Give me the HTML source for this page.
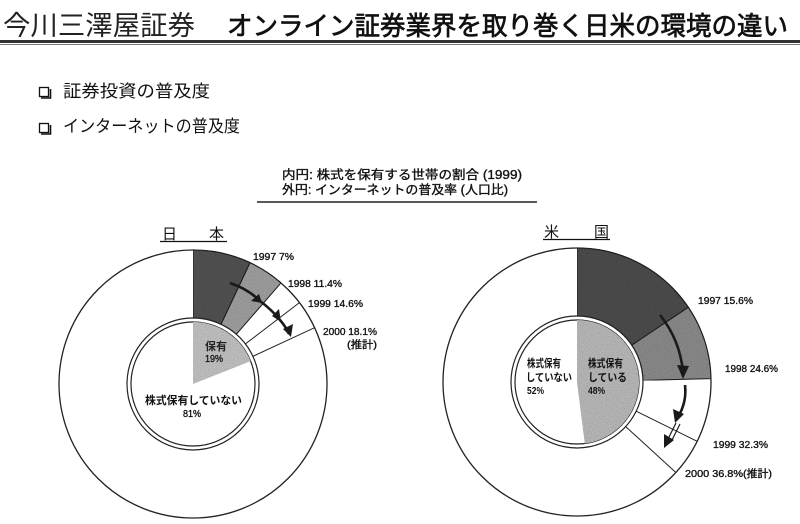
<!DOCTYPE html>
<html><head><meta charset="utf-8"><style>
html,body{margin:0;padding:0;background:#fff;}
svg{display:block;}
.jp{font-family:"Liberation Sans","Noto Sans CJK JP",sans-serif;}
.n{stroke:#111;stroke-width:0.35;}
</style></head><body>
<svg width="800" height="524" viewBox="0 0 800 524" xmlns="http://www.w3.org/2000/svg" class="jp">
<defs>
<filter id="spk" x="0" y="0" width="100%" height="100%">
<feTurbulence type="fractalNoise" baseFrequency="0.9" numOctaves="1" seed="3" result="n"/>
<feColorMatrix in="n" type="matrix" values="0 0 0 0 0  0 0 0 0 0  0 0 0 0 0  0 0 0 0.5 -0.1" result="a"/>
<feComposite in="a" in2="SourceGraphic" operator="in" result="b"/>
<feMerge><feMergeNode in="SourceGraphic"/><feMergeNode in="b"/></feMerge>
</filter>
</defs>
<rect width="800" height="524" fill="#fff"/>

<!-- Header -->
<text x="3" y="35" font-size="27" fill="#222" textLength="192" lengthAdjust="spacingAndGlyphs">今川三澤屋証券</text>
<text x="227" y="35" font-size="26" fill="#111" stroke="#111" stroke-width="0.7" textLength="561" lengthAdjust="spacingAndGlyphs">オンライン証券業界を取り巻く日米の環境の違い</text>
<rect x="0" y="40" width="800" height="3" fill="#333"/>
<line x1="0" y1="44.5" x2="800" y2="44.5" stroke="#777" stroke-width="1"/>

<!-- Bullets -->
<rect x="39.5" y="87.5" width="9" height="9" fill="none" stroke="#111" stroke-width="1.3"/>
<path d="M41 98 H50.5 V89" fill="none" stroke="#111" stroke-width="1.6"/>
<text x="63" y="97" font-size="17" fill="#111" textLength="147" lengthAdjust="spacingAndGlyphs">証券投資の普及度</text>
<rect x="39.5" y="123.5" width="9" height="9" fill="none" stroke="#111" stroke-width="1.3"/>
<path d="M41 134 H50.5 V125" fill="none" stroke="#111" stroke-width="1.6"/>
<text x="63" y="132" font-size="17" fill="#111" textLength="177" lengthAdjust="spacingAndGlyphs">インターネットの普及度</text>

<!-- Legend -->
<text x="282" y="179" font-size="12.5" fill="#111" class="n" textLength="240" lengthAdjust="spacingAndGlyphs">内円: 株式を保有する世帯の割合 (1999)</text>
<text x="282" y="194" font-size="12.5" fill="#111" class="n" textLength="226" lengthAdjust="spacingAndGlyphs">外円: インターネットの普及率 (人口比)</text>
<line x1="257" y1="202" x2="537" y2="202" stroke="#222" stroke-width="1.6"/>

<!-- ===== Japan chart ===== -->
<text x="162" y="239" font-size="15" fill="#111">日</text>
<text x="209" y="239" font-size="15" fill="#111">本</text>
<line x1="160" y1="241.5" x2="227" y2="241.5" stroke="#111" stroke-width="1.3"/>

<circle cx="193" cy="384" r="134" fill="#fff" stroke="#222" stroke-width="1.3"/>
<path d="M193,318 L193,250 A134,134 0 0 1 250.06,262.76 L221.10,324.28 A66,66 0 0 0 193,318 Z" fill="#555" stroke="#222" stroke-width="1" filter="url(#spk)"/>
<path d="M221.10,324.28 L250.06,262.76 A134,134 0 0 1 280.98,282.94 L236.34,334.22 A66,66 0 0 0 221.10,324.28 Z" fill="#a3a3a3" stroke="#222" stroke-width="1" filter="url(#spk)"/>
<line x1="245.43" y1="343.90" x2="299.45" y2="302.59" stroke="#222" stroke-width="1"/>
<line x1="252.89" y1="356.28" x2="314.59" y2="327.72" stroke="#222" stroke-width="1"/>
<circle cx="193" cy="384" r="66" fill="#fff" stroke="#222" stroke-width="1.2"/>
<circle cx="193" cy="384" r="62" fill="#fff" stroke="#222" stroke-width="1.2"/>
<path d="M193,384 L193,322 A62,62 0 0 1 250.65,361.18 Z" fill="#c6c6c6" filter="url(#spk)"/>

<!-- Japan arrows -->
<path d="M230,283 Q248,289 260,301 Q272,310 280,320 Q286,327 289,334" fill="none" stroke="#1a1a1a" stroke-width="2.6"/>
<polygon points="262,303 251,301 259,294" fill="#1a1a1a"/>
<polygon points="281,322 272,316 279,309" fill="#1a1a1a"/>
<polygon points="291,337 283,329 293,324" fill="#1a1a1a"/>

<text x="253" y="260" font-size="10.5" fill="#111" class="n" textLength="41" lengthAdjust="spacingAndGlyphs">1997  7%</text>
<text x="288" y="287" font-size="10.5" fill="#111" class="n" textLength="54" lengthAdjust="spacingAndGlyphs">1998  11.4%</text>
<text x="308" y="307" font-size="10.5" fill="#111" class="n" textLength="55" lengthAdjust="spacingAndGlyphs">1999  14.6%</text>
<text x="323" y="335" font-size="10.5" fill="#111" class="n" textLength="54" lengthAdjust="spacingAndGlyphs">2000  18.1%</text>
<text x="347" y="348" font-size="10.5" fill="#111" class="n" textLength="30" lengthAdjust="spacingAndGlyphs">(推計)</text>

<text x="205" y="350" font-size="11" font-weight="bold" fill="#222" textLength="22" lengthAdjust="spacingAndGlyphs">保有</text>
<text x="205" y="362" font-size="10.5" fill="#222" class="n" textLength="18" lengthAdjust="spacingAndGlyphs">19%</text>
<text x="145" y="404" font-size="11" font-weight="bold" fill="#111" textLength="97" lengthAdjust="spacingAndGlyphs">株式保有していない</text>
<text x="183" y="417" font-size="10.5" fill="#111" class="n" textLength="18" lengthAdjust="spacingAndGlyphs">81%</text>

<!-- ===== US chart ===== -->
<text x="544" y="237" font-size="15" fill="#111">米</text>
<text x="594" y="237" font-size="15" fill="#111">国</text>
<line x1="543" y1="239.5" x2="610" y2="239.5" stroke="#111" stroke-width="1.3"/>

<circle cx="577" cy="382" r="134" fill="#fff" stroke="#222" stroke-width="1.3"/>
<path d="M577,316 L577,248 A134,134 0 0 1 688.27,307.34 L631.81,345.22 A66,66 0 0 0 577,316 Z" fill="#505050" stroke="#222" stroke-width="1" filter="url(#spk)"/>
<path d="M631.81,345.22 L688.27,307.34 A134,134 0 0 1 710.96,378.64 L642.98,380.34 A66,66 0 0 0 631.81,345.22 Z" fill="#8e8e8e" stroke="#222" stroke-width="1" filter="url(#spk)"/>
<line x1="636.18" y1="411.22" x2="697.14" y2="441.34" stroke="#222" stroke-width="1"/>
<line x1="625.68" y1="426.57" x2="675.83" y2="472.49" stroke="#222" stroke-width="1"/>
<circle cx="577" cy="382" r="66" fill="#fff" stroke="#222" stroke-width="1.2"/>
<circle cx="577" cy="382" r="62" fill="#fff" stroke="#222" stroke-width="1.2"/>
<path d="M577,382 L577,320 A62,62 0 0 1 584.77,443.51 Z" fill="#bdbdbd" filter="url(#spk)"/>

<!-- US arrows -->
<path d="M660,315 Q680,340 683,372" fill="none" stroke="#1a1a1a" stroke-width="2.6"/>
<polygon points="683,379 677,365 689,366" fill="#1a1a1a"/>
<path d="M685,385 Q687,402 678,417" fill="none" stroke="#1a1a1a" stroke-width="2.6"/>
<polygon points="675,423 673,409 684,414" fill="#1a1a1a"/>
<path d="M676,423 L667,441" fill="none" stroke="#1a1a1a" stroke-width="1.2"/>
<path d="M680,424 L671,442" fill="none" stroke="#1a1a1a" stroke-width="1.2"/>
<polygon points="664,448 664,434 674,440" fill="#1a1a1a"/>

<text x="698" y="304" font-size="10.5" fill="#111" class="n" textLength="55" lengthAdjust="spacingAndGlyphs">1997  15.6%</text>
<text x="725" y="372" font-size="10.5" fill="#111" class="n" textLength="53" lengthAdjust="spacingAndGlyphs">1998 24.6%</text>
<text x="713" y="448" font-size="10.5" fill="#111" class="n" textLength="55" lengthAdjust="spacingAndGlyphs">1999  32.3%</text>
<text x="685" y="477" font-size="10.5" fill="#111" class="n" textLength="87" lengthAdjust="spacingAndGlyphs">2000  36.8%(推計)</text>

<text x="527" y="367" font-size="11" font-weight="bold" fill="#111" textLength="34" lengthAdjust="spacingAndGlyphs">株式保有</text>
<text x="526" y="381" font-size="11" font-weight="bold" fill="#111" textLength="46" lengthAdjust="spacingAndGlyphs">していない</text>
<text x="527" y="394" font-size="10.5" font-weight="bold" fill="#111" textLength="17" lengthAdjust="spacingAndGlyphs">52%</text>
<text x="588" y="367" font-size="11" font-weight="bold" fill="#111" textLength="35" lengthAdjust="spacingAndGlyphs">株式保有</text>
<text x="588" y="381" font-size="11" font-weight="bold" fill="#111" textLength="39" lengthAdjust="spacingAndGlyphs">している</text>
<text x="588" y="394" font-size="10.5" font-weight="bold" fill="#111" textLength="17" lengthAdjust="spacingAndGlyphs">48%</text>
</svg>
</body></html>
